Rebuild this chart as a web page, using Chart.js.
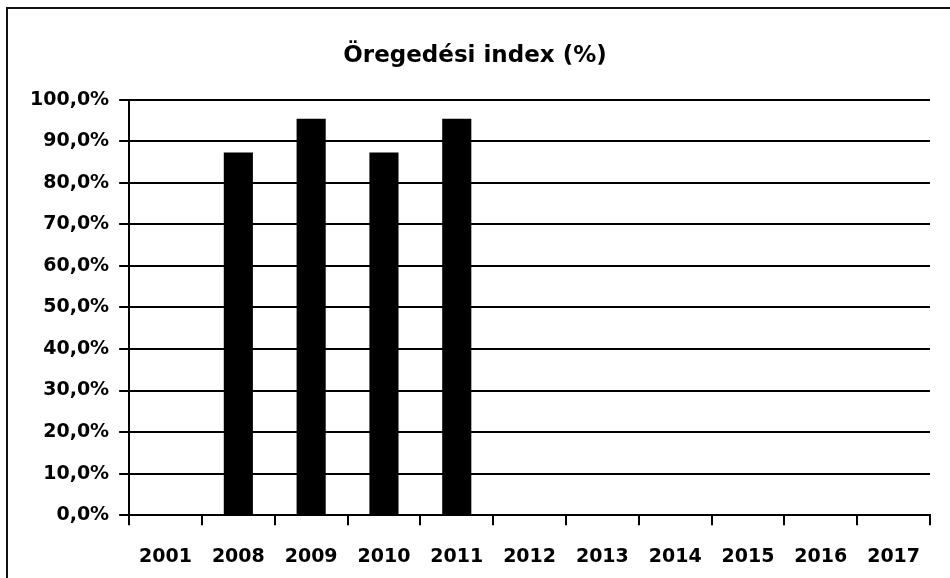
<!DOCTYPE html>
<html>
<head>
<meta charset="utf-8">
<script src="https://cdn.jsdelivr.net/npm/chart.js@4"></script>
<style>
  html, body { margin: 0; padding: 0; background: #fff; }
  #wrap { position: relative; width: 950px; height: 578px; }
  #frame {
    position: absolute; left: 6px; top: 7px; width: 944px; height: 571px;
    border-left: 2px solid #111; border-top: 2px solid #111;
    box-sizing: border-box; pointer-events: none;
  }
</style>
</head>
<body>
<div id="wrap">
  <canvas id="chart" width="950" height="578"></canvas>
  <div id="frame"></div>
</div>
<script>
  // years on the x axis
  const YEARS = ["2001", "2008", "2009", "2010", "2011", "2012", "2013", "2014", "2015", "2016", "2017"];
  // ageing index, percent (empty years have no bar)
  const INDEX_PCT = [null, 87.3, 95.4, 87.3, 95.4, null, null, null, null, null, null];
  const Y_TICKS = [0, 10, 20, 30, 40, 50, 60, 70, 80, 90, 100];

  const tickFont = { family: "DejaVu Sans", weight: "bold", size: 19 };

  function pct(v){
    return v.toFixed(1).replace('.', ',') + '%';
  }

  new Chart(document.getElementById("chart").getContext("2d"), {
    type: 'bar',
    data: {
      labels: YEARS,
      datasets: [{
        label: 'Öregedési index (%)',
        data: INDEX_PCT,
        backgroundColor: '#000',
        borderWidth: 0,
        barPercentage: 0.4,
        categoryPercentage: 1.0
      }]
    },
    options: {
      responsive: false,
      animation: false,
      layout: { padding: { left: 20, right: 20, top: 0, bottom: -10 } },
      plugins: {
        legend: { display: false },
        tooltip: { enabled: false },
        title: {
          display: true,
          text: 'Öregedési index (%)',
          color: '#000',
          font: { family: "DejaVu Sans", weight: "bold", size: 23 },
          padding: { top: 42, bottom: 30 }
        }
      },
      scales: {
        x: {
          offset: true,
          border: { display: true, color: '#000', width: 2 },
          grid: {
            offset: true,
            drawOnChartArea: false,
            drawTicks: true,
            tickLength: 10,
            color: '#000',
            lineWidth: 2
          },
          ticks: { color: '#000', font: tickFont, padding: 20, maxRotation: 0, autoSkip: false }
        },
        y: {
          min: 0,
          max: 100,
          afterBuildTicks: axis => { axis.ticks = Y_TICKS.map(v => ({ value: v })); },
          border: { display: true, color: '#000', width: 2 },
          grid: {
            color: '#000',
            lineWidth: 2,
            drawTicks: true,
            tickLength: 10
          },
          ticks: { color: '#000', font: tickFont, padding: 10, callback: v => pct(v) }
        }
      }
    }
  });
</script>
</body>
</html>
